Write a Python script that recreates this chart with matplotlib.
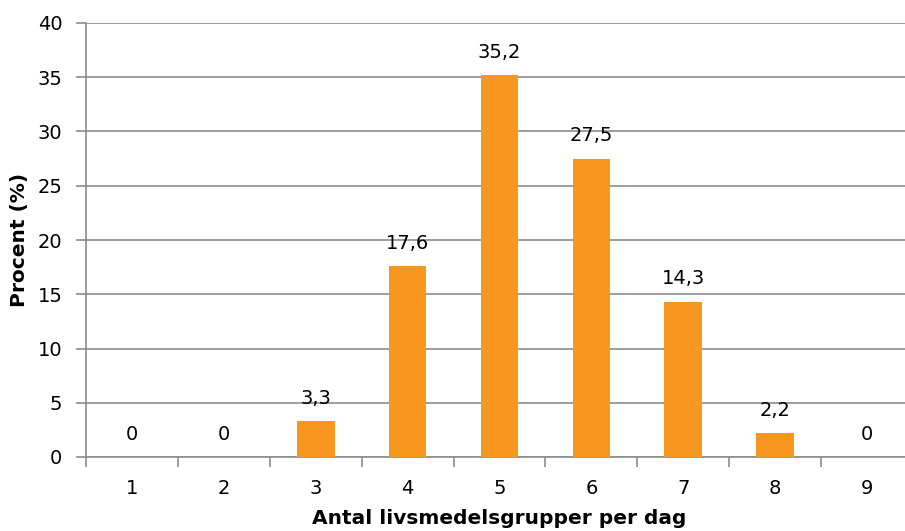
import matplotlib
matplotlib.use("Agg")
import matplotlib.pyplot as plt

categories = [1, 2, 3, 4, 5, 6, 7, 8, 9]
values = [0, 0, 3.3, 17.6, 35.2, 27.5, 14.3, 2.2, 0]
value_labels = ["0", "0", "3,3", "17,6", "35,2", "27,5", "14,3", "2,2", "0"]
y_ticks = [0, 5, 10, 15, 20, 25, 30, 35, 40]

plt.rcParams["font.family"] = ["DejaVu Sans"]
fig = plt.figure(figsize=(9.05, 5.31), dpi=100)
ax = fig.add_axes([86 / 905, 1 - 457 / 531, (913 - 86) / 905, (457 - 23) / 531])

bar_color = "#F7971F"
grid_color = "#8C8C8C"
fs = 14

ax.bar(categories, values, width=0.41, color=bar_color, zorder=3)

for x, v, lab in zip(categories, values, value_labels):
    ax.text(x, v + 1.6, lab, ha="center", va="baseline", fontsize=fs, color="#000000")

ax.set_xlim(0.5, 9.5)
ax.set_ylim(0, 40)
ax.set_yticks(y_ticks)
ax.set_yticklabels([str(t) for t in y_ticks], fontsize=fs)
ax.yaxis.grid(True, color=grid_color, linewidth=1.2, zorder=0)

ax.set_xticks([c - 0.5 for c in categories] + [9.5])
ax.set_xticklabels([])
ax.set_xticks(categories, minor=True)
ax.set_xticklabels([str(c) for c in categories], minor=True, fontsize=fs)
ax.tick_params(axis="x", which="major", length=7, width=1.2, color=grid_color)
ax.tick_params(axis="x", which="minor", length=0, pad=16)
ax.tick_params(axis="y", length=7, width=1.2, color=grid_color, pad=10)

for side in ["top", "right"]:
    ax.spines[side].set_visible(False)
for side in ["left", "bottom"]:
    ax.spines[side].set_color(grid_color)
    ax.spines[side].set_linewidth(1.2)

ax.set_ylabel("Procent (%)", fontsize=14.5, fontweight="bold", labelpad=6)
ax.set_xlabel("Antal livsmedelsgrupper per dag", fontsize=14.5, fontweight="bold", labelpad=8)

fig.savefig("out.png", dpi=100)
